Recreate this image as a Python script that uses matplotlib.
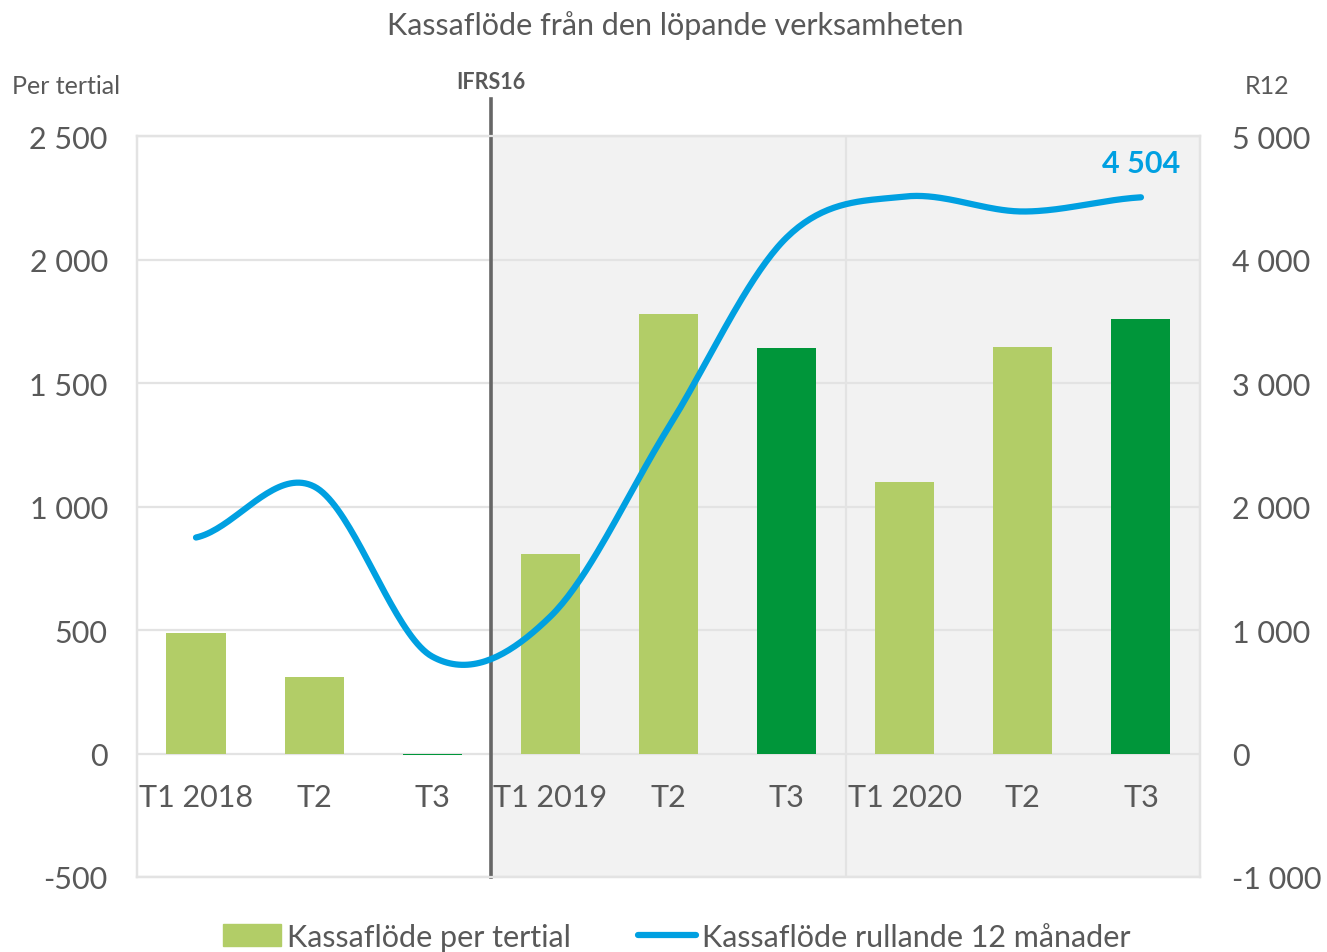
import numpy as np
import matplotlib
matplotlib.use("Agg")
import matplotlib.pyplot as plt
from matplotlib.ticker import FuncFormatter, FixedLocator
from matplotlib.lines import Line2D
from matplotlib.patches import Patch

# data
categories = ["T1 2018", "T2", "T3", "T1 2019", "T2", "T3", "T1 2020", "T2", "T3"]
per_tertial = [486, 308, -8, 806, 1781, 1640, 1101, 1644, 1761]
rolling_12m = [1749, 2162, 785, 1109, 2640, 4178, 4510, 4389, 4504]
dark_bars = [2, 5, 8]  # last tertial of each year drawn in dark green

LIGHT_GREEN = "#B2CD67"
DARK_GREEN = "#00963A"
BLUE = "#00A0E1"
GREY_TEXT = "#595959"
GRID = "#E3E3E3"

plt.rcParams["font.family"] = ["Lato", "DejaVu Sans"]


def smooth_curve(y, n=40):
    """Catmull-Rom style bezier through the points, like a spreadsheet 'smooth line'."""
    y = np.asarray(y, dtype=float)
    x = np.arange(len(y), dtype=float)
    xs, ys = [], []
    for i in range(len(y) - 1):
        p0 = y[i - 1] if i > 0 else y[i]
        p3 = y[i + 2] if i + 2 < len(y) else y[i + 1]
        c1 = y[i] + (y[i + 1] - p0) / 6
        c2 = y[i + 1] - (p3 - y[i]) / 6
        t = np.linspace(0, 1, n, endpoint=(i == len(y) - 2))
        b = (1 - t) ** 3 * y[i] + 3 * (1 - t) ** 2 * t * c1 + 3 * (1 - t) * t ** 2 * c2 + t ** 3 * y[i + 1]
        xs.append(x[i] + t)
        ys.append(b)
    return np.concatenate(xs), np.concatenate(ys)


def space_thousands(v, pos=None):
    s = f"{abs(int(round(v))):,}".replace(",", " ")
    return ("-" if v < 0 else "") + s


fig = plt.figure(figsize=(13.27, 9.53), dpi=100)
ax = fig.add_axes([0.1032, 0.0787, 0.8011, 0.7775])
ax2 = ax.twinx()

x = np.arange(len(categories))
colors = [DARK_GREEN if i in dark_bars else LIGHT_GREEN for i in range(len(categories))]

ax.set_xlim(-0.5, len(categories) - 0.5)
ax.set_ylim(-500, 2500)
ax2.set_ylim(-1000, 5000)

# shaded IFRS16 period
ax.axvspan(2.5, len(categories) - 0.5, color="#F2F2F2", zorder=0, lw=0)
for v in range(-500, 2501, 500):
    ax.axhline(v, color=GRID, lw=1.6, zorder=1)
ax.axvline(5.5, color=GRID, lw=1.6, zorder=1)

ax.bar(x, per_tertial, width=0.5, color=colors, zorder=2)

ax.yaxis.set_major_locator(FixedLocator(range(-500, 2501, 500)))
ax2.yaxis.set_major_locator(FixedLocator(range(-1000, 5001, 1000)))
ax.yaxis.set_major_formatter(FuncFormatter(space_thousands))
ax2.yaxis.set_major_formatter(FuncFormatter(space_thousands))

ax.set_xticks(x)
ax.set_xticklabels(categories)
# labels sit just under the zero line, inside the plot area
ax.tick_params(axis="x", length=0, labelsize=22, colors=GREY_TEXT, pad=-68)
ax.tick_params(axis="y", length=0, labelsize=22, colors=GREY_TEXT, pad=21)
ax2.tick_params(axis="y", length=0, labelsize=22, colors=GREY_TEXT, pad=23)

for a in (ax, ax2):
    for sp in a.spines.values():
        sp.set_color(GRID)
        sp.set_linewidth(1.6)

xs, ys = smooth_curve(rolling_12m)
ax2.plot(xs, ys, color=BLUE, lw=4.5, solid_capstyle="round", zorder=3)
ax2.text(x[-1], rolling_12m[-1] + 280, space_thousands(rolling_12m[-1]), color=BLUE,
         fontsize=22, fontweight="bold", ha="center", va="center")

# IFRS16 marker
ax.plot([2.5, 2.5], [-500, 2650], color="#666666", lw=2.6, zorder=4, clip_on=False)
ax.text(2.5, 2719, "IFRS16", ha="center", va="center", fontsize=15.5, fontweight="bold",
        color=GREY_TEXT)

fig.text(0.509, 0.973, "Kassaflöde från den löpande verksamheten", ha="center", va="center",
         fontsize=22, color=GREY_TEXT)
fig.text(0.009, 0.909, "Per tertial", ha="left", va="center", fontsize=18, color=GREY_TEXT)
fig.text(0.972, 0.909, "R12", ha="right", va="center", fontsize=18, color=GREY_TEXT)

handles = [Patch(color=LIGHT_GREEN), Line2D([], [], color=BLUE, lw=4.5, solid_capstyle="round")]
fig.legend(handles, ["Kassaflöde per tertial", "Kassaflöde rullande 12 månader"],
           loc="center", bbox_to_anchor=(0.51, 0.016), ncol=2, frameon=False, fontsize=22,
           labelcolor=GREY_TEXT, handlelength=1.9, handletextpad=0.2, columnspacing=2.2)

fig.savefig("out.png", dpi=100)
